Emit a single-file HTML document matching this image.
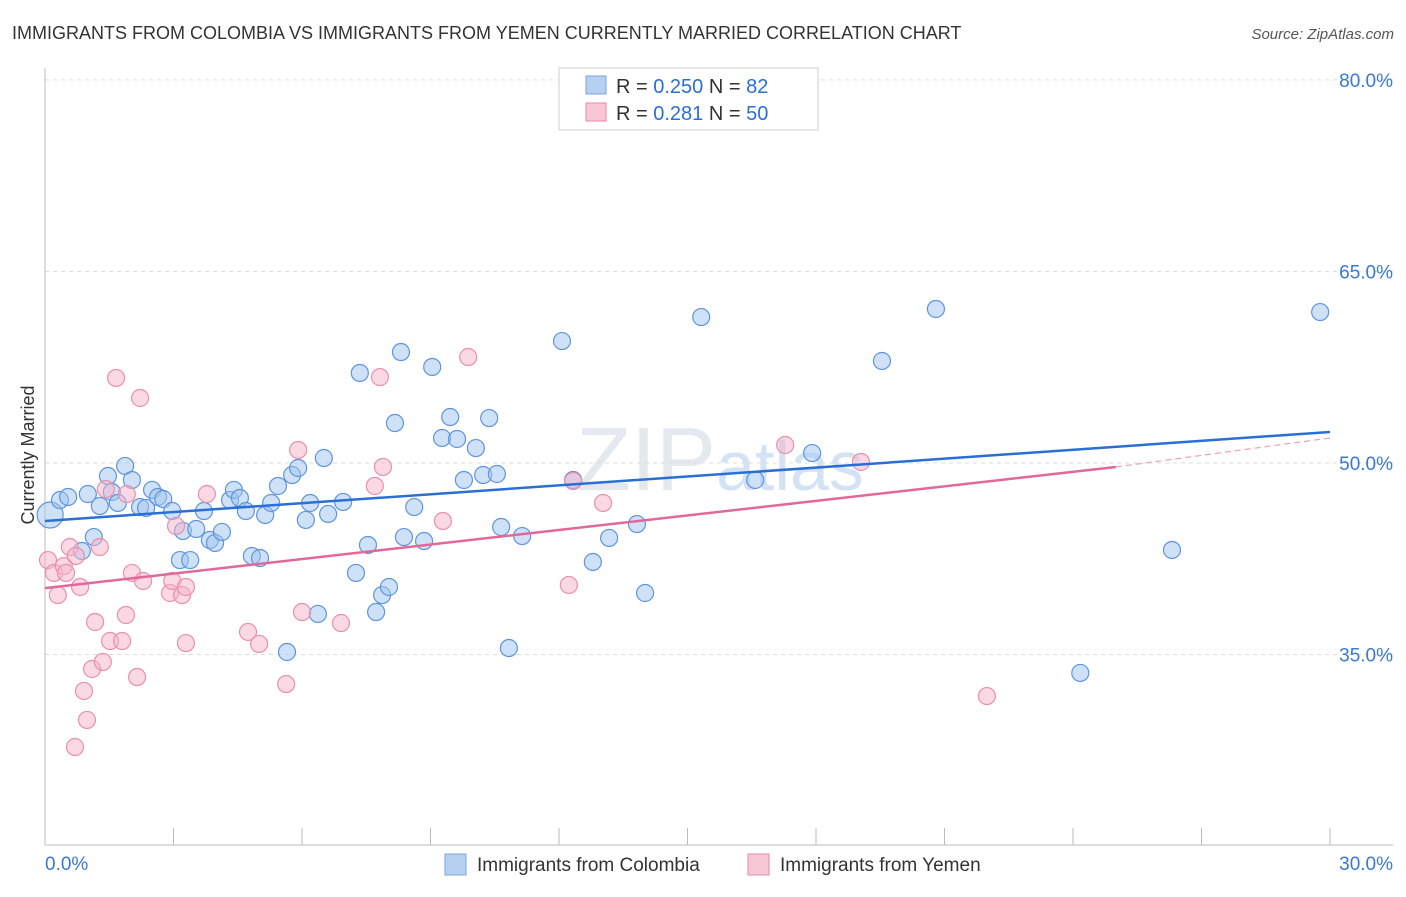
<!DOCTYPE html>
<html><head><meta charset="utf-8"><style>
body{margin:0;background:#fff;font-family:"Liberation Sans",sans-serif;}
svg text{font-family:"Liberation Sans",sans-serif;}
</style></head><body>
<svg id="chart" width="1406" height="892" xmlns="http://www.w3.org/2000/svg">
<text x="12" y="39" font-size="18" fill="#333">IMMIGRANTS FROM COLOMBIA VS IMMIGRANTS FROM YEMEN CURRENTLY MARRIED CORRELATION CHART</text>
<text x="1394" y="39" font-size="15" fill="#555" text-anchor="end" font-style="italic">Source: ZipAtlas.com</text>
<text x="34" y="455" font-size="18" fill="#333" text-anchor="middle" transform="rotate(-90 34 455)">Currently Married</text>
<text x="720" y="490" font-size="90" fill="#e4e8ef" text-anchor="middle" font-family="Liberation Serif">ZIP<tspan font-family="Liberation Sans" font-size="70" fill="#d3e2f5">atlas</tspan></text>
<g id="grid"></g><g id="axes"></g><g id="pts"></g><g id="lines"></g>
<g>
<rect x="559" y="68" width="259" height="62" fill="#fff" stroke="#ccc"/>
<rect x="586" y="76" width="20" height="18" fill="#b7d0f2" stroke="#7aa6e3"/>
<text x="616" y="93" font-size="20" fill="#333">R = <tspan fill="#2a6fd6">0.250</tspan>   N =  <tspan fill="#2a6fd6">82</tspan></text>
<rect x="586" y="103" width="20" height="18" fill="#f8c6d5" stroke="#e98aa9"/>
<text x="616" y="120" font-size="20" fill="#333">R =  <tspan fill="#2a6fd6">0.281</tspan>   N = <tspan fill="#2a6fd6">50</tspan></text>
</g>
<g>
<rect x="445" y="854" width="21" height="21" fill="#b7d0f2" stroke="#7aa6e3"/>
<text x="477" y="871" font-size="19" fill="#333">Immigrants from Colombia</text>
<rect x="748" y="854" width="21" height="21" fill="#f8c6d5" stroke="#e98aa9"/>
<text x="780" y="871" font-size="19" fill="#333">Immigrants from Yemen</text>
</g>
</svg>
<script>
const yTicks=[35,50,65,80];
const yTickLabels=["35.0%","50.0%","65.0%","80.0%"];
const xEnds=[0,30];
const xEndLabels=["0.0%","30.0%"];
const blueX=[0.12,0.35,0.54,1.0,1.28,1.14,0.86,1.47,1.56,1.7,1.87,2.03,2.22,2.36,2.5,2.64,2.76,2.97,3.15,3.22,3.39,3.53,3.71,3.85,3.97,4.13,4.32,4.41,4.55,4.69,4.83,5.02,5.14,5.28,5.44,5.77,5.91,6.09,6.19,6.37,6.51,6.61,6.96,5.65,7.26,7.35,7.54,7.73,7.87,8.03,8.17,8.31,8.38,8.62,8.85,9.04,9.27,9.46,9.62,9.78,10.06,10.23,10.37,10.55,10.65,10.83,11.14,12.07,12.33,12.79,13.17,13.82,14.01,15.32,16.58,17.91,19.54,20.8,26.31,24.17,29.77];
const blueY=[45.93,47.1,47.34,47.57,46.63,44.2,43.11,48.98,47.73,46.87,49.77,48.67,46.55,46.48,47.89,47.34,47.18,46.24,42.4,44.68,42.4,44.83,46.24,43.97,43.74,44.6,47.1,47.89,47.26,46.24,42.72,42.56,45.93,46.87,48.2,49.06,49.61,45.54,46.87,38.18,50.39,46.01,46.95,35.2,41.39,57.05,43.58,38.33,39.66,40.29,53.13,58.69,44.2,46.55,43.89,57.52,51.96,53.6,51.88,48.67,51.17,49.06,53.52,49.14,44.99,35.51,44.28,59.55,48.67,42.25,44.13,45.22,39.82,61.43,48.67,50.78,57.99,62.06,43.19,33.56,61.82];
const pinkX=[0.07,0.21,0.3,0.44,0.49,0.58,0.7,0.72,0.82,0.91,0.98,1.1,1.17,1.28,1.35,1.42,1.52,1.66,1.8,1.89,1.91,2.03,2.15,2.22,2.29,2.92,2.97,3.06,3.2,3.29,3.29,3.78,4.74,5.0,5.63,5.91,6.0,6.91,7.7,7.82,7.89,9.29,9.88,12.23,12.33,13.03,17.28,19.05,21.99];
const pinkY=[42.4,41.39,39.66,41.93,41.39,43.42,27.76,42.72,40.29,32.15,29.88,33.87,37.55,43.42,34.42,47.96,36.06,56.66,36.06,38.1,47.57,41.39,33.24,55.09,40.76,39.82,40.76,45.07,39.66,35.9,40.29,47.57,36.77,35.83,32.69,51.02,38.33,37.47,48.2,56.73,49.69,45.46,58.3,40.45,48.59,46.87,51.41,50.08,31.75];
const blueTrend=[45.46,52.43];
const pinkTrend=[40.2,49.69,51.96];
const pinkSolidEnd=25;
const NS='http://www.w3.org/2000/svg';
const X=v=>45+v/30*1285;
const Y=v=>463-(v-50)*12.77;
function mk(tag,attrs,parent){const e=document.createElementNS(NS,tag);for(const k in attrs)e.setAttribute(k,attrs[k]);document.getElementById(parent).appendChild(e);return e;}
yTicks.forEach((t,i)=>{
 const g=mk('line',{x1:45,x2:1393,y1:Y(t),y2:Y(t),stroke:'#ddd','stroke-dasharray':'4,4'},'grid');
 
 
 const tx=mk('text',{x:1393,y:Y(t)+7,'font-size':19,fill:'#3a78d4','text-anchor':'end'},'grid');
 tx.textContent=yTickLabels[i];
 
 
});
const ax=mk('line',{x1:45,x2:1393,y1:845,y2:845,stroke:'#bbb'},'axes');


const ay=mk('line',{x1:45,x2:45,y1:68,y2:845,stroke:'#bbb'},'axes');


for(let i=0;i<=10;i++){const v=i*3;const t=mk('line',{x1:X(v),x2:X(v),y1:828,y2:845,stroke:'#bbb'},'axes');
 
 }
xEnds.forEach((v,i)=>{const t=mk('text',{x:i?1393:45,y:870,'font-size':19,fill:'#3a78d4','text-anchor':i?'end':'start'},'axes');t.textContent=xEndLabels[i];
 
 });
blueX.forEach((x,i)=>{const c=mk('circle',{cx:X(x),cy:Y(blueY[i]),r:i==0?13:8.5,fill:'rgba(160,195,240,0.5)',stroke:'#5e95de','stroke-width':1.2},'pts');
 
 });
pinkX.forEach((x,i)=>{const c=mk('circle',{cx:X(x),cy:Y(pinkY[i]),r:8.5,fill:'rgba(246,180,202,0.5)',stroke:'#ea8fae','stroke-width':1.2},'pts');
 
 });
const bl=mk('line',{x1:X(0),y1:Y(blueTrend[0]),x2:X(30),y2:Y(blueTrend[1]),stroke:'#2a6fd6','stroke-width':2.5},'lines');


const pl=mk('line',{x1:X(0),y1:Y(pinkTrend[0]),x2:X(pinkSolidEnd),y2:Y(pinkTrend[1]),stroke:'#e2679a','stroke-width':2.5},'lines');


const pd=mk('line',{x1:X(pinkSolidEnd),y1:Y(pinkTrend[1]),x2:X(30),y2:Y(pinkTrend[2]),stroke:'#e8a0bc','stroke-width':1.2,'stroke-dasharray':'6,4'},'lines');


</script>
</body></html>
